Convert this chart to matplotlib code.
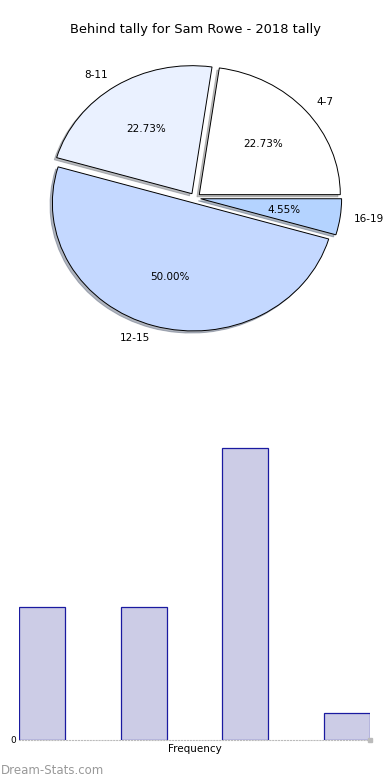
import matplotlib
matplotlib.use("Agg")
import matplotlib.pyplot as plt

categories = ["4-7", "8-11", "12-15", "16-19"]
counts = [5, 5, 11, 1]
colors = ["#FFFFFF", "#EAF1FF", "#C4D8FF", "#B4D3FF"]
title = "Behind tally for Sam Rowe - 2018 tally"

fig = plt.figure(figsize=(3.9, 7.8), dpi=100)

# Pie
axp = fig.add_axes([0.0480, 0.5410, 0.904, 0.4103])
wedges, texts, autotexts = axp.pie(
    counts, labels=categories, colors=colors, autopct="%.2f%%",
    explode=[0.04] * len(counts),
    shadow=dict(ox=-0.012, oy=-0.012, shade=0.5), startangle=0,
    radius=1.0,
    wedgeprops=dict(edgecolor="black", linewidth=0.7),
    textprops=dict(fontsize=7.5),
)
axp.set_aspect("auto")
axp.set_xlim(-1.25, 1.25)
axp.set_ylim(-1.25, 1.25)
axp.axis("off")
fig.text(0.5, 1 - 30 / 780, title, ha="center", va="center", fontsize=9.4)

# Bars
axb = fig.add_axes([0.0487, 0.0513, 0.9, 0.4077])
x = list(range(len(counts)))
axb.bar(x, counts, width=0.45, align="edge", color="#CCCCE6",
        edgecolor="#1A1AA0", linewidth=0.9)
axb.set_xlim(0, 3.45)
axb.set_ylim(0, 12)
for s in ["top", "right", "left"]:
    axb.spines[s].set_visible(False)
axb.spines["bottom"].set_color("#BBBBBB")
axb.spines["bottom"].set_linestyle(":")
axb.spines["bottom"].set_linewidth(0.8)
axb.set_xticks([])
axb.set_yticks([0])
axb.tick_params(axis="y", length=0, labelsize=6.5, pad=2)
axb.set_xlabel("Frequency", fontsize=7.5, labelpad=3)
axb.plot([3.45], [0], marker="s", markersize=2.5, color="#BBBBBB", clip_on=False)

fig.text(0.003, 1 - 770 / 780, "Dream-Stats.com", ha="left", va="center",
         fontsize=8.5, color="#999999")

fig.savefig("out.png", dpi=100)
